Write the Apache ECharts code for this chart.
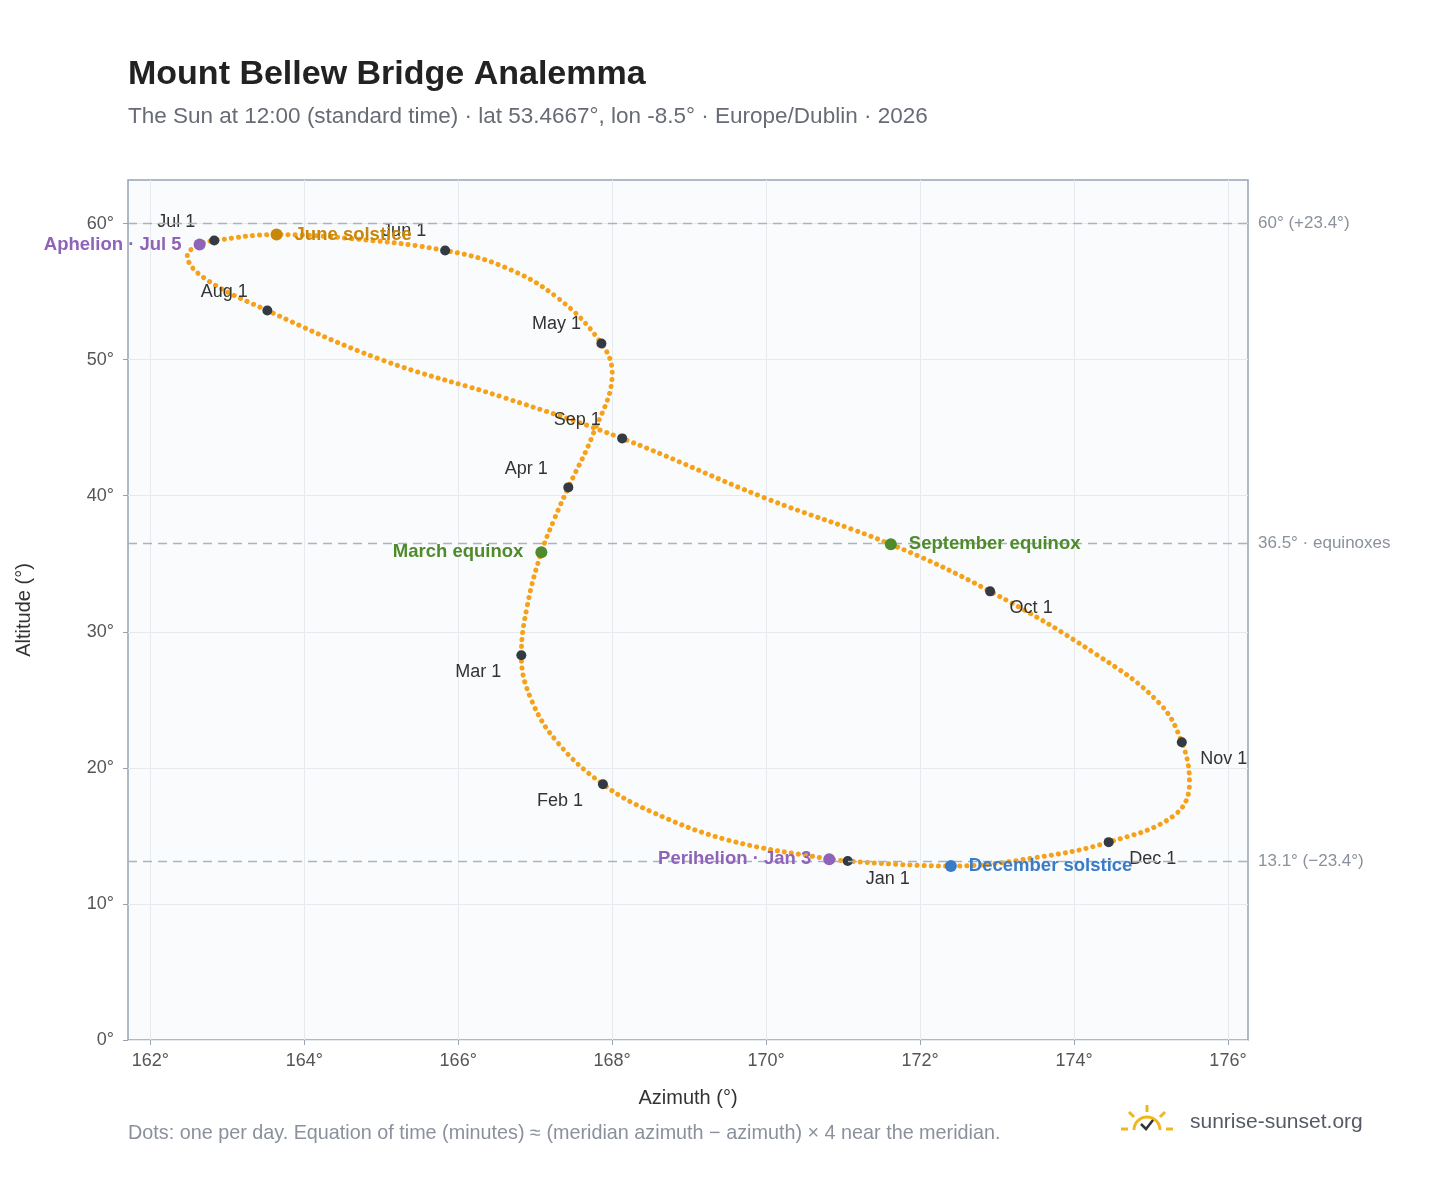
<!DOCTYPE html>
<html><head><meta charset="utf-8">
<script src="https://cdn.jsdelivr.net/npm/echarts@6/dist/echarts.min.js"></script>
<style>body{margin:0}#c{width:1448px;height:1188px}</style></head>
<body><div id="c"></div>
<script>
// Sun path (azimuth, altitude), Jan 1 -> Dec 31
const pathAz  = [171.06,170.82,169.5,168.5,167.88,167.3,166.95,166.82,166.9,167.08,167.25,167.43,167.75,168.0,167.86,167.3,166.6,165.83,164.6,163.64,162.83,162.64,162.48,162.7,163.52,165.0,166.6,168.13,170.0,171.62,172.91,174.3,175.1,175.40,175.5,175.3,174.45,173.5,172.40,171.06];
const pathAlt = [13.15,13.29,14.7,16.8,18.80,21.8,25.0,28.27,32.0,35.84,38.3,40.61,44.5,49.0,51.19,54.5,56.8,58.02,58.9,59.19,58.75,58.46,57.65,56.0,53.61,50.0,47.2,44.21,39.8,36.43,32.97,28.3,24.8,21.88,18.9,16.5,14.54,13.4,12.78,13.15];
const monthNames = ['Jan 1','Feb 1','Mar 1','Apr 1','May 1','Jun 1','Jul 1','Aug 1','Sep 1','Oct 1','Nov 1','Dec 1'];
const monthAz  = [171.06,167.88,166.82,167.43,167.86,165.83,162.83,163.52,168.13,172.91,175.40,174.45];
const monthAlt = [13.15,18.80,28.27,40.61,51.19,58.02,58.75,53.61,44.21,32.97,21.88,14.54];
const eventNames = ['Perihelion · Jan 3','March equinox','June solstice','Aphelion · Jul 5','September equinox','December solstice'];
const eventAz  = [170.82,167.08,163.64,162.64,171.62,172.40];
const eventAlt = [13.29,35.84,59.19,58.46,36.43,12.78];
const eventColors = ['#8e63b8','#4f8a2b','#c8860a','#8e63b8','#4f8a2b','#3a7bc8'];
const refLines = [60,36.5,13.1];
const refLabels = ['60° (+23.4°)','36.5° · equinoxes','13.1° (−23.4°)'];

const monthPos = [[40,18],[-43,17],[-43,17],[-42,-18],[-45,-19],[-41,-19],[-38,-19],[-43,-18],[-45,-18],[41,17],[42,17],[44,17]];
const eventPos = ['left','left','right','left','right','right'];

const chart = echarts.init(document.getElementById('c'));
const F = 'Liberation Sans, Arial, sans-serif';
const ticks=[162,164,166,168,170,172,174,176];
chart.setOption({
  backgroundColor:'#fff',
  textStyle:{fontFamily:F},
  title:{text:'Mount Bellew Bridge Analemma',left:123,top:53,
    textStyle:{fontSize:34,fontWeight:'bold',color:'#222'},
    subtext:'The Sun at 12:00 (standard time) · lat 53.4667°, lon -8.5° · Europe/Dublin · 2026',
    subtextStyle:{fontSize:22.5,color:'#666b75'},itemGap:13},
  grid:{left:128,right:200,top:180,bottom:148,show:true,backgroundColor:'#f9fbfd',borderColor:'#97a3b2',borderWidth:1.5},
  xAxis:{type:'value',min:161.71,max:176.26,
    name:'Azimuth (°)',nameLocation:'middle',nameGap:48,nameTextStyle:{fontSize:20,color:'#333'},
    axisLabel:{fontSize:18,color:'#555',margin:12,formatter:v=>Math.round(v)+'°',customValues:ticks},
    axisTick:{show:true,customValues:ticks,lineStyle:{color:'#97a3b2'}},
    splitLine:{show:true,customValues:ticks,lineStyle:{color:'#e6eaef'}},
    axisLine:{show:false}},
  yAxis:{type:'value',min:0,max:63.2,interval:10,
    name:'Altitude (°)',nameLocation:'middle',nameGap:94,nameTextStyle:{fontSize:20,color:'#333'},
    axisLabel:{fontSize:18,color:'#555',margin:14,formatter:v=>v%10===0?v+'°':''},
    axisTick:{show:true,customValues:[0,10,20,30,40,50,60],lineStyle:{color:'#97a3b2'}},
    splitLine:{lineStyle:{color:'#e6eaef'}},axisLine:{show:false}},
  graphic:[
    {type:'text',left:128,top:1124,style:{text:'Dots: one per day. Equation of time (minutes) ≈ (meridian azimuth − azimuth) × 4 near the meridian.',fontSize:19.8,fill:'#8a919c',fontFamily:F}},
    {type:'text',left:1190,top:1112,style:{text:'sunrise-sunset.org',fontSize:21,fill:'#555b66',fontFamily:F}},
    {type:'arc',shape:{cx:1147,cy:1130,r:13,startAngle:Math.PI,endAngle:2*Math.PI},style:{stroke:'#f0b71c',lineWidth:3,fill:null}},
    {type:'polyline',shape:{points:[[1141,1124],[1146,1129],[1153,1120]]},style:{stroke:'#333',lineWidth:2.5,fill:null}},
    {type:'line',shape:{x1:1147,y1:1112,x2:1147,y2:1105},style:{stroke:'#f0b71c',lineWidth:3}},
    {type:'line',shape:{x1:1134,y1:1117,x2:1129,y2:1112},style:{stroke:'#f0b71c',lineWidth:3}},
    {type:'line',shape:{x1:1160,y1:1117,x2:1165,y2:1112},style:{stroke:'#f0b71c',lineWidth:3}},
    {type:'line',shape:{x1:1128,y1:1129,x2:1121,y2:1129},style:{stroke:'#f0b71c',lineWidth:3}},
    {type:'line',shape:{x1:1166,y1:1129,x2:1173,y2:1129},style:{stroke:'#f0b71c',lineWidth:3}}
  ],
  series:[
    {type:'line',smooth:0.4,symbol:'none',data:pathAz.map((a,i)=>[a,pathAlt[i]]),
     lineStyle:{color:'#f5a21a',width:5,type:[0.1,7],cap:'round'},z:2,
     markLine:{silent:true,symbol:'none',data:refLines.map((v,i)=>({yAxis:v,label:{formatter:refLabels[i]}})),
       lineStyle:{color:'#a8b4c2',type:[9,6],width:1.3},
       label:{position:'end',fontSize:17,color:'#8a919c',distance:10}}},
    {type:'scatter',symbolSize:10,z:4,data:monthAz.map((a,i)=>({value:[a,monthAlt[i]],
        label:{show:true,formatter:monthNames[i],offset:monthPos[i]}})),
     itemStyle:{color:'#343a44',opacity:1},label:{fontSize:18,color:'#333',position:'inside'}},
    {type:'scatter',symbolSize:12,z:5,data:eventAz.map((a,i)=>({value:[a,eventAlt[i]],
        itemStyle:{color:eventColors[i],opacity:1},
        label:{show:true,formatter:eventNames[i],position:eventPos[i],color:eventColors[i]}})),
     label:{fontSize:18.5,fontWeight:'bold',distance:12}}
  ]
});
</script></body></html>
